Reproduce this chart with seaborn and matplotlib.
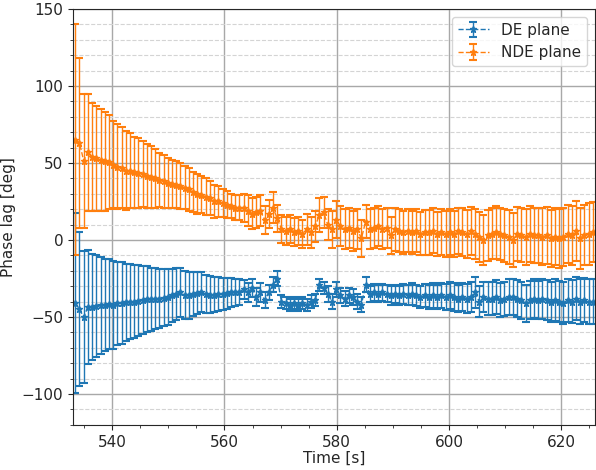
import matplotlib
matplotlib.use("Agg")
import matplotlib.pyplot as plt
from matplotlib.ticker import MultipleLocator
import seaborn as sns

# sample times [s]
time = [
    533.40, 534.15, 534.90, 535.65, 536.40, 537.15, 537.90, 538.65, 539.40, 540.15,
    540.90, 541.65, 542.40, 543.15, 543.90, 544.65, 545.40, 546.15, 546.90, 547.65,
    548.40, 549.15, 549.90, 550.65, 551.40, 552.15, 552.90, 553.65, 554.40, 555.15,
    555.90, 556.65, 557.40, 558.15, 558.90, 559.65, 560.40, 561.15, 561.90, 562.65,
    563.40, 564.15, 564.90, 565.65, 566.40, 567.15, 567.90, 568.65, 569.40, 570.15,
    570.90, 571.65, 572.40, 573.15, 573.90, 574.65, 575.40, 576.15, 576.90, 577.65,
    578.40, 579.15, 579.90, 580.65, 581.40, 582.15, 582.90, 583.65, 584.40, 585.15,
    585.90, 586.65, 587.40, 588.15, 588.90, 589.65, 590.40, 591.15, 591.90, 592.65,
    593.40, 594.15, 594.90, 595.65, 596.40, 597.15, 597.90, 598.65, 599.40, 600.15,
    600.90, 601.65, 602.40, 603.15, 603.90, 604.65, 605.40, 606.15, 606.90, 607.65,
    608.40, 609.15, 609.90, 610.65, 611.40, 612.15, 612.90, 613.65, 614.40, 615.15,
    615.90, 616.65, 617.40, 618.15, 618.90, 619.65, 620.40, 621.15, 621.90, 622.65,
    623.40, 624.15, 624.90, 625.65,
]

# DE plane phase lag [deg] and its error
de_lag = [
    -41, -45, -50, -43.5, -43.5, -43, -42.5, -42, -41.5, -42,
    -41, -41, -40.5, -40, -40, -39.5, -39, -38.5, -38.5, -38,
    -38, -37.5, -37, -36, -35, -34, -35.5, -36, -35, -34.5,
    -34, -35, -35.5, -35.5, -35, -35, -34.5, -34, -34, -33.5,
    -32, -34, -31, -37, -34, -39, -34, -29, -25, -40,
    -41, -42, -41, -42, -41, -42, -40, -39, -29, -31,
    -35, -40, -32, -36, -38, -36, -37, -40, -42, -29,
    -35, -34, -35, -34, -35, -36, -35, -36, -35, -36,
    -35, -36, -37, -36, -37, -36, -37, -36, -37, -36,
    -37, -38, -37, -38, -37, -34, -40, -37, -38, -38,
    -37, -39, -38, -37, -37, -38, -39, -41, -39, -38,
    -39, -38, -39, -40, -39, -40, -41, -39, -40, -38,
    -40, -39, -40, -40,
]
de_err = [
    58.5, 50, 43, 37, 34.5, 33, 31.5, 30, 29, 28.5,
    27, 26.5, 25, 24.5, 23.5, 23, 22, 21.5, 20.5, 20,
    19, 18.5, 18, 17, 17, 16, 15.5, 15, 14, 13.5,
    13, 12.5, 12, 11.5, 11, 10.5, 10, 9.5, 9, 8.5,
    6, 6, 6, 6, 6, 5, 5, 5, 5, 4,
    4, 4, 4, 4, 4, 4, 4, 4, 4, 4,
    5, 5, 5, 5, 5, 5, 5, 5, 5, 5,
    5, 5.5, 5.5, 5.5, 5.5, 6, 6, 6, 6.5, 6.5,
    7, 7, 7, 7.5, 7.5, 8, 8, 8, 8.5, 8.5,
    9, 9, 9, 9.5, 9.5, 10, 10, 10, 10.5, 10.5,
    11, 11, 11, 11.5, 11.5, 12, 12, 12, 12.5, 12.5,
    12.5, 13, 13, 13, 13.5, 13.5, 13.5, 14, 14, 14,
    14.5, 14.5, 14.5, 14.5,
]

# NDE plane phase lag [deg] and its error
nde_lag = [
    65, 63, 51.5, 57, 54, 53, 52, 51, 50.5, 49,
    47.5, 47, 45, 45, 44, 43.5, 43, 41.5, 41, 40,
    39, 38, 37, 36.5, 36, 35, 34, 33, 31, 30,
    29.5, 28, 27, 25, 25, 24, 23, 22, 21, 21,
    21, 19, 17, 18, 19, 13, 17, 21, 14, 7,
    6, 7, 5, 6, 4, 7, 5, 9, 16, 18,
    10, 7, 13, 9, 7, 8, 6, 7, 1, 12,
    7, 8, 9, 7, 8, 3, 7, 6, 5, 6,
    5, 6, 4, 5, 5, 6, 4, 5, 4, 5,
    4, 6, 5, 4, 6, 4, 2, 0, 3, 4,
    5, 4, 3, 2, 0, 4, 3, 2, 4, 3,
    3, 2, 3, 1, 2, 1, 2, 4, 3, 6,
    1, 3, 4, 5,
]
nde_err = [
    75, 55, 43.5, 38, 35, 34, 33, 32, 30.5, 28.5,
    27.5, 26.5, 25.5, 24.5, 23, 22.5, 21.5, 20.5, 20, 19,
    17.5, 17, 16, 15.5, 15.5, 15, 14, 14, 13, 13,
    12, 12, 11, 11, 10, 9, 8.5, 8, 8, 8,
    9, 10, 10, 10, 10, 9, 9, 10, 9, 9,
    9, 9, 9, 9, 9, 10, 10, 10, 11, 10,
    10, 12, 12, 13, 13, 13, 13, 13, 12, 11,
    13, 13, 13, 13, 13, 12, 14, 14, 14, 14,
    14, 14, 14, 14.5, 14.5, 14.5, 14.5, 15, 15, 15,
    15, 15, 15.5, 15.5, 15.5, 16, 16, 16.5, 16.5, 16.5,
    17, 17, 17, 17.5, 17.5, 17.5, 17.5, 18, 18, 18,
    18, 18.5, 18.5, 18.5, 18.5, 19, 19, 19, 19, 19.5,
    19.5, 19.5, 20, 19.5,
]


def main():
    sns.set_style("ticks")
    plt.rcParams.update(
        {
            "font.family": "DejaVu Sans",
            "font.size": 11,
            "axes.linewidth": 0.8,
        }
    )
    colors = sns.color_palette("tab10")

    fig, ax = plt.subplots(figsize=(5.96, 4.70), dpi=100)
    fig.subplots_adjust(left=0.1225, right=0.998, bottom=0.096, top=0.981)

    style = dict(fmt="--*", capsize=3, capthick=1.5, elinewidth=1, lw=1, ms=5)
    ax.errorbar(time, de_lag, yerr=de_err, color=colors[0], label="DE plane", **style)
    ax.errorbar(time, nde_lag, yerr=nde_err, color=colors[1], label="NDE plane", **style)

    ax.set_xlim(533.0, 626.0)
    ax.set_ylim(-120, 150)
    ax.xaxis.set_major_locator(MultipleLocator(20))
    ax.xaxis.set_minor_locator(MultipleLocator(5))
    ax.yaxis.set_major_locator(MultipleLocator(50))
    ax.yaxis.set_minor_locator(MultipleLocator(10))

    ax.grid(True, which="major", color="#a8a8a8", lw=1)
    ax.grid(True, which="minor", axis="y", color="#d4d4d4", ls="--", lw=0.8)
    ax.set_axisbelow(True)

    ax.set_xlabel("Time [s]", labelpad=1)
    ax.set_ylabel("Phase lag [deg]")
    ax.legend(loc="upper right")

    fig.savefig("out.png", dpi=100)
    plt.close(fig)


if __name__ == "__main__":
    main()
